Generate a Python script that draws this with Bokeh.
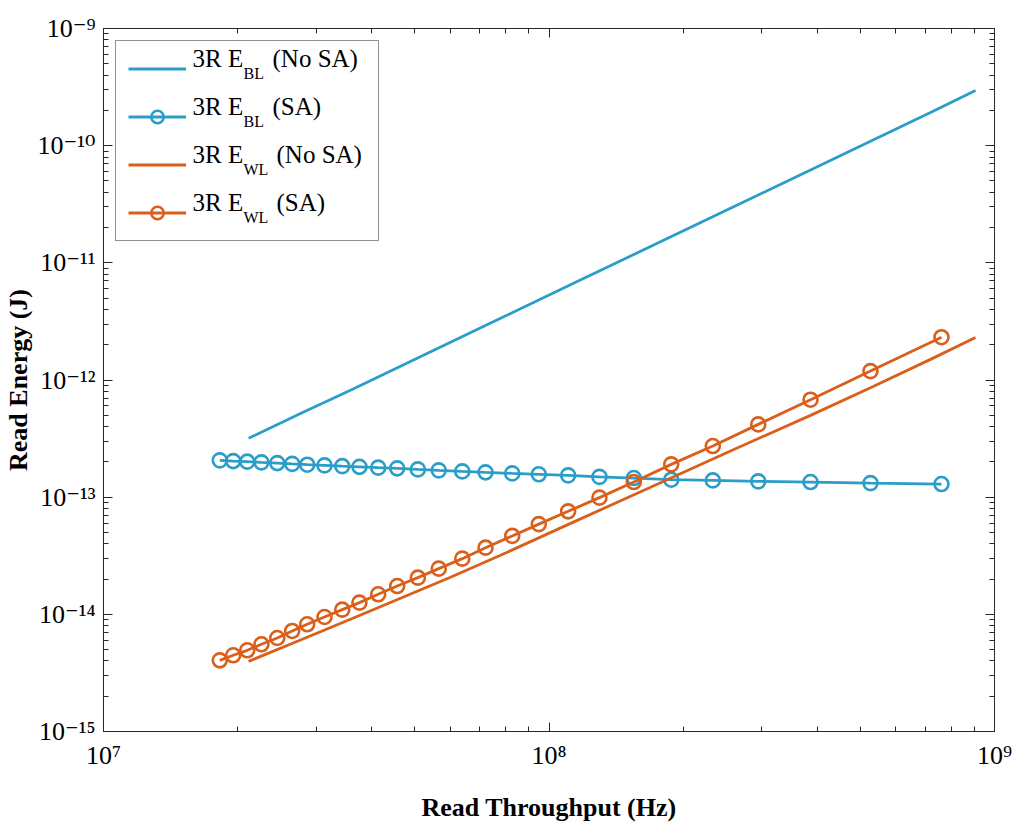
from bokeh.plotting import figure
from bokeh.models import (FixedTicker, LogAxis, Legend, LegendItem, Range1d,
                          LinearScale, CustomJSTickFormatter)
from bokeh.core.properties import value
from bokeh.embed import file_html
from bokeh.resources import INLINE

# ---------------- data ----------------
x_sa = [1.824e7, 1.955e7, 2.102e7, 2.262e7, 2.455e7, 2.652e7, 2.866e7, 3.134e7,
        3.435e7, 3.754e7, 4.136e7, 4.563e7, 5.077e7, 5.656e7, 6.387e7, 7.203e7,
        8.270e7, 9.487e7, 1.104e8, 1.298e8, 1.550e8, 1.881e8, 2.332e8, 2.949e8,
        3.864e8, 5.268e8, 7.603e8]
e_bl_sa = [2.061e-13, 2.032e-13, 2.009e-13, 1.982e-13, 1.954e-13, 1.923e-13,
           1.893e-13, 1.867e-13, 1.839e-13, 1.815e-13, 1.786e-13, 1.762e-13,
           1.726e-13, 1.694e-13, 1.660e-13, 1.629e-13, 1.596e-13, 1.567e-13,
           1.535e-13, 1.490e-13, 1.456e-13, 1.410e-13, 1.390e-13, 1.364e-13,
           1.346e-13, 1.318e-13, 1.294e-13]
e_wl_sa = [4.05e-15, 4.47e-15, 4.93e-15, 5.55e-15, 6.28e-15, 7.21e-15, 8.22e-15,
           9.49e-15, 1.096e-14, 1.259e-14, 1.482e-14, 1.743e-14, 2.056e-14,
           2.455e-14, 2.987e-14, 3.707e-14, 4.67e-14, 5.89e-14, 7.57e-14,
           9.91e-14, 1.346e-13, 1.905e-13, 2.73e-13, 4.18e-13, 6.79e-13,
           1.191e-12, 2.32e-12]

x_nosa = [2.117e7, 2.768e7, 3.584e7, 4.642e7, 6.010e7, 7.784e7, 1.157e8,
          1.690e8, 2.555e8, 3.864e8, 5.268e8, 7.184e8, 9.066e8]
e_bl_nosa = [3.18e-13, 5.18e-13, 8.18e-13, 1.312e-12, 2.10e-12, 3.36e-12,
             6.92e-12, 1.378e-11, 2.92e-11, 6.21e-11, 1.091e-10, 1.916e-10,
             2.96e-10]
e_wl_nosa = [3.97e-15, 6.04e-15, 9.08e-15, 1.371e-14, 2.07e-14, 3.19e-14,
             6.34e-14, 1.213e-13, 2.48e-13, 4.99e-13, 8.60e-13, 1.50e-12,
             2.31e-12]

x_exponents = [7, 8, 9]
y_exponents = [-15, -14, -13, -12, -11, -10, -9]
x_tick_labels = ["10\u2077", "10\u2078", "10\u2079"]
y_tick_labels = ["10\u207b\u00b9\u2075", "10\u207b\u00b9\u2074", "10\u207b\u00b9\u00b3",
                 "10\u207b\u00b9\u00b2", "10\u207b\u00b9\u00b9", "10\u207b\u00b9\u2070",
                 "10\u207b\u2079"]

legend_main = ["3R E", "3R E", "3R E", "3R E"]
legend_sub = ["BL", "BL", "WL", "WL"]
legend_tail = ["(No SA)", "(SA)", "(No SA)", "(SA)"]

BLUE = "#2a9dc9"
ORANGE = "#d95f1b"
AX = "#262626"
FONT = "Liberation Serif"
TICKFONT = "Liberation Serif, DejaVu Serif"

# ---------------- figure ----------------
p = figure(x_axis_type="log", y_axis_type="log",
           x_range=(1e7, 1e9), y_range=(1e-15, 1e-9),
           frame_width=891, frame_height=703,
           min_border_left=103, min_border_right=22,
           min_border_top=28, min_border_bottom=94,
           output_backend="svg", toolbar_location=None)
p.xgrid.visible = False
p.ygrid.visible = False
p.outline_line_color = AX
p.background_fill_color = "white"
p.border_fill_color = "white"

# frame-pixel helper ranges, used only to place the legend texts
p.extra_x_ranges = {"px": Range1d(0, 891)}
p.extra_y_ranges = {"px": Range1d(0, 703)}
p.extra_x_scales = {"px": LinearScale()}
p.extra_y_scales = {"px": LinearScale()}

x_major = [10.0 ** k for k in x_exponents]
y_major = [10.0 ** k for k in y_exponents]
x_minor = [m * 10.0 ** k for k in x_exponents[:-1] for m in range(2, 10)]
y_minor = [m * 10.0 ** k for k in y_exponents[:-1] for m in range(2, 10)]
xt = FixedTicker(ticks=x_major, minor_ticks=x_minor)
yt = FixedTicker(ticks=y_major, minor_ticks=y_minor)

blank = CustomJSTickFormatter(code="return ''")

bottom = p.below[0]
left = p.left[0]
top = LogAxis(ticker=xt, formatter=blank)
right = LogAxis(ticker=yt, formatter=blank)
p.add_layout(top, "above")
p.add_layout(right, "right")
bottom.ticker = xt
left.ticker = yt
bottom.major_label_overrides = {v: s for v, s in zip(x_major, x_tick_labels)}
left.major_label_overrides = {v: s for v, s in zip(y_major, y_tick_labels)}

for ax in [bottom, left, top, right]:
    ax.major_tick_in = 9
    ax.major_tick_out = 0
    ax.minor_tick_in = 5
    ax.minor_tick_out = 0
    ax.major_label_standoff = 0
    ax.axis_line_color = AX
    ax.major_tick_line_color = AX
    ax.minor_tick_line_color = AX
    ax.major_label_text_font = TICKFONT
    ax.major_label_text_font_size = "26px"
    ax.major_label_text_color = "black"

bottom.major_label_standoff = 9
left.major_label_standoff = 8
bottom.axis_label = "Read Throughput (Hz)"
left.axis_label = "Read Energy (J)"
for ax in [bottom, left]:
    ax.axis_label_text_font = FONT
    ax.axis_label_text_font_size = "26px"
    ax.axis_label_text_font_style = "bold"
    ax.axis_label_text_color = "black"
bottom.axis_label_standoff = 20
left.axis_label_standoff = 2

LW = 2.8
r1 = p.line(x_nosa, e_bl_nosa, line_color=BLUE, line_width=LW)
r2l = p.line(x_sa, e_bl_sa, line_color=BLUE, line_width=LW)
r2m = p.scatter(x_sa, e_bl_sa, marker="circle", size=14, line_color=BLUE,
                line_width=2.6, fill_alpha=0)
r3 = p.line(x_nosa, e_wl_nosa, line_color=ORANGE, line_width=LW)
r4l = p.line(x_sa, e_wl_sa, line_color=ORANGE, line_width=LW)
r4m = p.scatter(x_sa, e_wl_sa, marker="circle", size=14, line_color=ORANGE,
                line_width=2.6, fill_alpha=0)

legend = Legend(items=[LegendItem(label=" ", renderers=[r1]),
                       LegendItem(label=" ", renderers=[r2l, r2m]),
                       LegendItem(label=" ", renderers=[r3]),
                       LegendItem(label=" ", renderers=[r4l, r4m])],
                location="top_left", margin=12, padding=12, spacing=17,
                glyph_width=58, glyph_height=31, label_height=31,
                label_width=173, label_standoff=7,
                border_line_color=AX, border_line_width=1,
                background_fill_alpha=0.0,
                label_text_font_size="24px")
p.add_layout(legend)

# legend texts with subscripts (frame pixel coordinates)
row_base = [659.5, 611.5, 563.5, 515.5]
sub_base = [b - 9.5 for b in row_base]
main_x = [89, 89, 89, 89]
sub_x = [140, 140, 140, 140]
tail_x = [169, 169, 173, 173]
common = dict(x_range_name="px", y_range_name="px",
              text_font=value(FONT), text_color="black",
              text_baseline="bottom", text_align="left")
p.text(x=main_x, y=row_base, text=legend_main, text_font_size="25px", **common)
p.text(x=sub_x, y=sub_base, text=legend_sub, text_font_size="16px", **common)
p.text(x=tail_x, y=row_base, text=legend_tail, text_font_size="25px", **common)

open("out.html", "w").write(file_html(p, INLINE))
